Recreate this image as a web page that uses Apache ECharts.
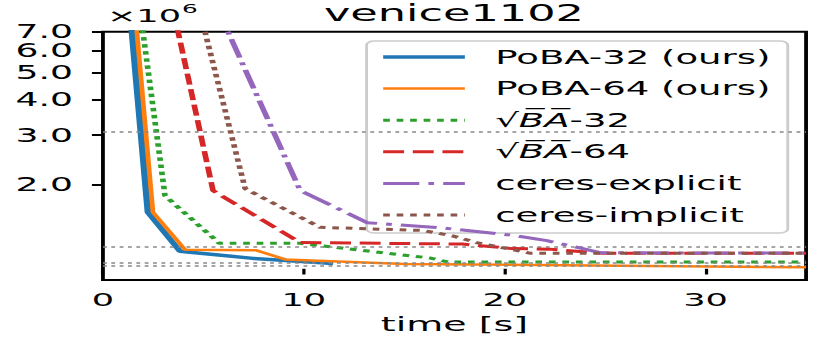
<!DOCTYPE html>
<html>
<head>
<meta charset="utf-8">
<script src="https://cdn.jsdelivr.net/npm/echarts@6/dist/echarts.min.js"></script>
<style>
  html, body { margin: 0; padding: 0; background: #fff; overflow: hidden; }
  /* the original figure is stretched sideways, so the chart is drawn narrow and widened */
  #chart { width: 437px; height: 343px; transform: scaleX(1.8993); transform-origin: 0 0; }
</style>
</head>
<body>
<div id="chart"></div>
<script>
// cost values are in units of 1e6, time in seconds
const timePoba32 = [1.0, 2.24, 3.84, 7.47, 11.46];
const costPoba32 = [16.0, 1.59, 1.154, 1.089, 1.045];

const timePoba64 = [1.0, 2.49, 4.09, 7.6, 9.07, 15, 35];
const costPoba64 = [25.0, 1.59, 1.17, 1.165, 1.08, 1.04, 1.012];

const timeSqrt32 = [1.5, 3.09, 5.8, 9.8, 16.3, 17.2, 35];
const costSqrt32 = [12.7, 1.82, 1.232, 1.232, 1.092, 1.057, 1.057];

const timeSqrt64 = [2.5, 5.48, 9.82, 17.9, 20.4, 22.2, 24.9, 35];
const costSqrt64 = [17.7, 1.90, 1.24, 1.225, 1.18, 1.175, 1.135, 1.135];

const timeExplicit = [5.0, 9.82, 13.15, 16.8, 20.4, 22.1, 24.8, 35];
const costExplicit = [10.9, 1.90, 1.46, 1.40, 1.316, 1.26, 1.14, 1.138];

const timeImplicit = [4.0, 7.08, 10.81, 15.9, 17.4, 18.6, 20.1, 21.3, 35];
const costImplicit = [14.0, 1.93, 1.405, 1.37, 1.31, 1.24, 1.18, 1.135, 1.135];

const refLevels = [3.06, 1.202, 1.057, 1.014];

// 6.0 sits close to 7.0, so it goes on a twin axis to keep it from being dropped
const yTickLabels = [2.0, 3.0, 4.0, 5.0, 7.0];
const yTickLabelsExtra = [6.0];
const xTickLabels = [0, 10, 20, 30];

const seriesNames = ['PoBA-32 (ours)', 'PoBA-64 (ours)', '√BA-32', '√BA-64', 'ceres-explicit', 'ceres-implicit'];
const seriesColors = ['#1f77b4', '#ff7f0e', '#2ca02c', '#d62728', '#9467bd', '#8c564b'];

const FONT = 'DejaVu Sans';
const lg = v => Math.log10(v);

function pairs(ts, vs) {
  return ts.map((t, i) => [t, lg(vs[i])]);
}

const lineStyles = [
  { width: 3.5, type: 'solid' },
  { width: 2.5, type: 'solid' },
  { width: 3, type: [3.5, 3.6] },
  { width: 3, type: [11, 4.6] },
  { width: 3, type: [19, 4.8, 3, 4.8] },
  { width: 3, type: [3.5, 3.6] }
];

const allData = [
  pairs(timePoba32, costPoba32),
  pairs(timePoba64, costPoba64),
  pairs(timeSqrt32, costSqrt32),
  pairs(timeSqrt64, costSqrt64),
  pairs(timeExplicit, costExplicit),
  pairs(timeImplicit, costImplicit)
];

const series = [{
  type: 'line',
  name: 'ref',
  data: [],
  silent: true,
  z: 1,
  markLine: {
    silent: true,
    symbol: 'none',
    label: { show: false },
    lineStyle: { color: '#888', type: [2, 2.4], width: 1.5 },
    data: refLevels.map(v => ({ yAxis: lg(v) }))
  }
}];

seriesNames.forEach((name, i) => {
  series.push({
    type: 'line',
    name: name,
    data: allData[i],
    symbol: 'none',
    clip: true,
    color: seriesColors[i],
    lineStyle: Object.assign({ color: seriesColors[i] }, lineStyles[i]),
    z: 2 + i
  });
});

function yAxisFor(values) {
  return {
    type: 'value',
    position: 'left',
    min: lg(0.912),
    max: lg(7.0),
    axisLine: { show: false },
    splitLine: { show: false },
    axisTick: { show: true, customValues: values.map(lg), length: 5.8, lineStyle: { color: '#000', width: 2 } },
    axisLabel: {
      customValues: values.map(lg),
      hideOverlap: false,
      margin: 15.8,
      fontFamily: FONT,
      fontSize: 19,
      lineHeight: 15,
      color: '#000',
      formatter: v => Math.pow(10, v).toFixed(1)
    }
  };
}

const chart = echarts.init(document.getElementById('chart'), null, { renderer: 'svg' });
chart.setOption({
  animation: false,
  backgroundColor: '#fff',
  title: {
    text: 'venice1102',
    left: 239,
    top: 3,
    padding: 0,
    textAlign: 'center',
    textStyle: { fontFamily: FONT, fontWeight: 'normal', fontSize: 23.5, color: '#000', lineHeight: 20 }
  },
  grid: {
    left: 54.2,
    right: 12.6,
    top: 31.7,
    bottom: 63,
    show: true,
    borderColor: '#000',
    borderWidth: 2,
    backgroundColor: 'transparent'
  },
  legend: {
    orient: 'vertical',
    left: 193,
    top: 41,
    data: seriesNames,
    itemWidth: 43,
    itemHeight: 14,
    itemGap: 9.6,
    padding: [5, 9, 7, 7],
    backgroundColor: 'rgba(255,255,255,0.8)',
    borderColor: '#cccccc',
    borderWidth: 1.5,
    borderRadius: 4,
    itemStyle: { opacity: 0 },
    lineStyle: { width: 'inherit' },
    textStyle: {
      fontFamily: FONT,
      fontSize: 19.5,
      color: '#000',
      lineHeight: 22,
      padding: [0, 0, 0, 11],
      rich: {
        sq: { fontFamily: FONT, fontSize: 19.5, color: '#000' },
        it: { fontFamily: FONT, fontStyle: 'italic', fontSize: 19.5, color: '#000' }
      }
    },
    formatter: function (name) {
      if (name.charAt(0) === '√') {
        return '{sq|√}{it|B\u0305A\u0305}' + name.slice(3);
      }
      return name;
    }
  },
  xAxis: {
    type: 'value',
    min: 0,
    max: 35,
    name: 'time [s]',
    nameLocation: 'middle',
    nameGap: 33,
    nameTextStyle: { fontFamily: FONT, fontSize: 20, color: '#000' },
    axisLine: { show: false },
    splitLine: { show: false },
    axisTick: { show: true, customValues: xTickLabels, length: 5.7, lineStyle: { color: '#000', width: 1.7 } },
    axisLabel: { customValues: xTickLabels, margin: 10, fontFamily: FONT, fontSize: 18.5, color: '#000' }
  },
  yAxis: [yAxisFor(yTickLabels), yAxisFor(yTickLabelsExtra)],
  graphic: [
    { type: 'text', left: 56.3, top: 6, style: { text: '×10', fontFamily: FONT, fontSize: 18.5, fill: '#000' } },
    { type: 'text', left: 95.8, top: 2, style: { text: '6', fontFamily: FONT, fontSize: 13, fill: '#000' } }
  ],
  series: series
});
</script>
</body>
</html>
